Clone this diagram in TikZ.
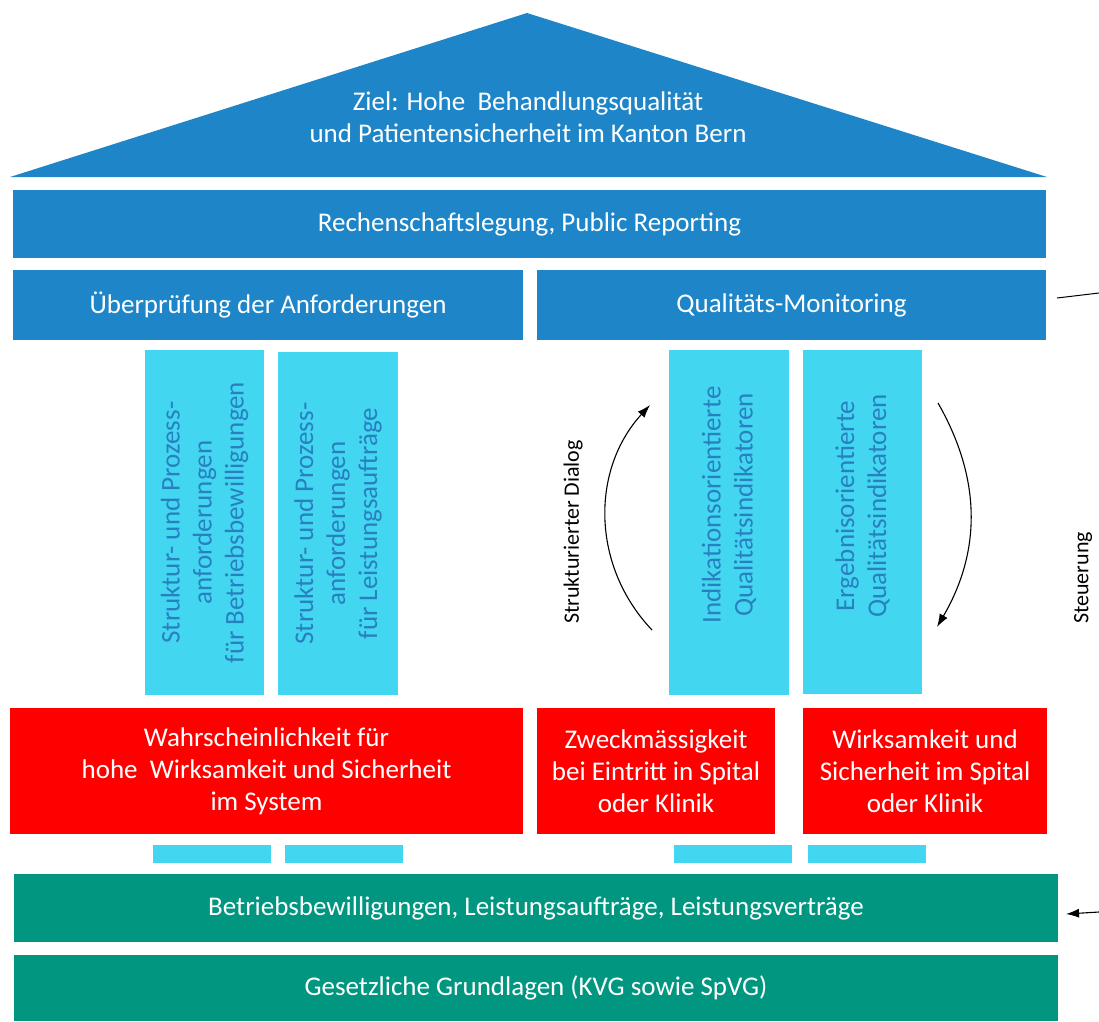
\documentclass[tikz,border=0pt]{standalone}
\usepackage{fontspec}
\setmainfont{Carlito}
\usepackage{xcolor}
\usetikzlibrary{arrows.meta}
\definecolor{roofblue}{RGB}{30,134,200}
\definecolor{pillarcyan}{RGB}{66,214,240}
\definecolor{pillartext}{RGB}{40,128,192}
\definecolor{basered}{RGB}{255,0,0}
\definecolor{basegreen}{RGB}{0,150,128}

\begin{document}
\begin{tikzpicture}[x=1pt,y=1pt]
\tikzstyle{every node}+=[inner sep=0pt]
\tikzstyle{band}=[rectangle, text=white, align=center, font=\fontsize{27}{32}\selectfont]
\tikzstyle{pillar}=[rectangle, fill=pillarcyan, rotate=90, minimum width=345pt, minimum height=119pt]
\tikzstyle{pillarlabel}=[text=pillartext, rotate=90, align=center, font=\fontsize{27}{32}\selectfont]
\tikzstyle{stub}=[rectangle, fill=pillarcyan, minimum width=118pt, minimum height=18pt]
\tikzstyle{note}=[text=black, rotate=90, font=\fontsize{22}{26}\selectfont]
\tikzstyle{loop}=[black, line width=1.1pt, -{Latex[length=13pt,width=9pt]}]
\useasboundingbox (0,0) rectangle (1099,-1021);
\fill [roofblue] (527,-13) -- (1047,-177) -- (10,-177) -- cycle;
\node [band] (goal) at (528,-117) {Ziel: Hohe\ \ Behandlungsqualität\\und Patientensicherheit im Kanton Bern};
\node [band, fill=roofblue, minimum width=1033pt, minimum height=68pt] (report) at (529.5,-224) {Rechenschaftslegung, Public Reporting};
\node [band, fill=roofblue, minimum width=510pt, minimum height=70pt] (review) at (268,-305) {Überprüfung der Anforderungen};
\node [band, fill=roofblue, minimum width=509pt, minimum height=70pt] (monitor) at (791.5,-305) {Qualitäts-Monitoring};
\node [pillar] (reqpermit) at (204.5,-522.5) {};
\node [pillarlabel] (reqpermittext) at (reqpermit) {Struktur- und Prozess-\\anforderungen\\für Betriebsbewilligungen};
\node [pillar, minimum width=343pt, minimum height=120pt] (reqmandate) at (338,-523.5) {};
\node [pillarlabel] (reqmandatetext) at (reqmandate) {Struktur- und Prozess-\\anforderungen\\für Leistungsaufträge};
\node [pillar, minimum height=120pt] (indic) at (729,-522.5) {};
\node [pillarlabel] (indictext) at (729,-505) {Indikationsorientierte\\Qualitätsindikatoren};
\node [pillar, minimum width=344pt] (outcome) at (862.5,-522) {};
\node [pillarlabel] (outcometext) at (862.5,-506) {Ergebnisorientierte\\Qualitätsindikatoren};
\node [band, fill=basered, minimum width=513pt, minimum height=126pt] (system) at (266.5,-771) {Wahrscheinlichkeit für\\hohe\ \ Wirksamkeit und Sicherheit\\im System};
\node [band, fill=basered, minimum width=238pt, minimum height=126pt] (purpose) at (656,-771) {Zweckmässigkeit\\bei Eintritt in Spital\\oder Klinik};
\node [band, fill=basered, minimum width=244pt, minimum height=126pt] (safety) at (925,-771) {Wirksamkeit und\\Sicherheit im Spital\\oder Klinik};
\node [stub] (stubA) at (212,-854) {};
\node [stub] (stubB) at (344,-854) {};
\node [stub] (stubC) at (733,-854) {};
\node [stub] (stubD) at (867,-854) {};
\node [band, fill=basegreen, minimum width=1044pt, minimum height=68pt] (permits) at (536,-908) {Betriebsbewilligungen, Leistungsaufträge, Leistungsverträge};
\node [band, fill=basegreen, minimum width=1044pt, minimum height=66pt] (law) at (536,-988) {Gesetzliche Grundlagen (KVG sowie SpVG)};
\node [note] (dialog) at (573,-532) {Strukturierter Dialog};
\node [note] (steer) at (1083,-578) {Steuerung};
\coordinate (dlgA) at (652,-630);
\coordinate (dlgB) at (650,-405);
\coordinate (evalA) at (938,-403);
\coordinate (evalB) at (937,-627);
\coordinate (ctrlA) at (1057,-298);
\coordinate (ctrlB) at (1099,-293);
\coordinate (ctrlC) at (1099,-912);
\coordinate (ctrlD) at (1066,-914);
\draw [loop] (dlgA) to [bend left=43] (dlgB);
\draw [loop] (evalA) to [bend left=30] (evalB);
\draw [black, line width=1pt] (ctrlA) -- (ctrlB);
\draw [loop] (ctrlC) -- (ctrlD);
\end{tikzpicture}
\end{document}
